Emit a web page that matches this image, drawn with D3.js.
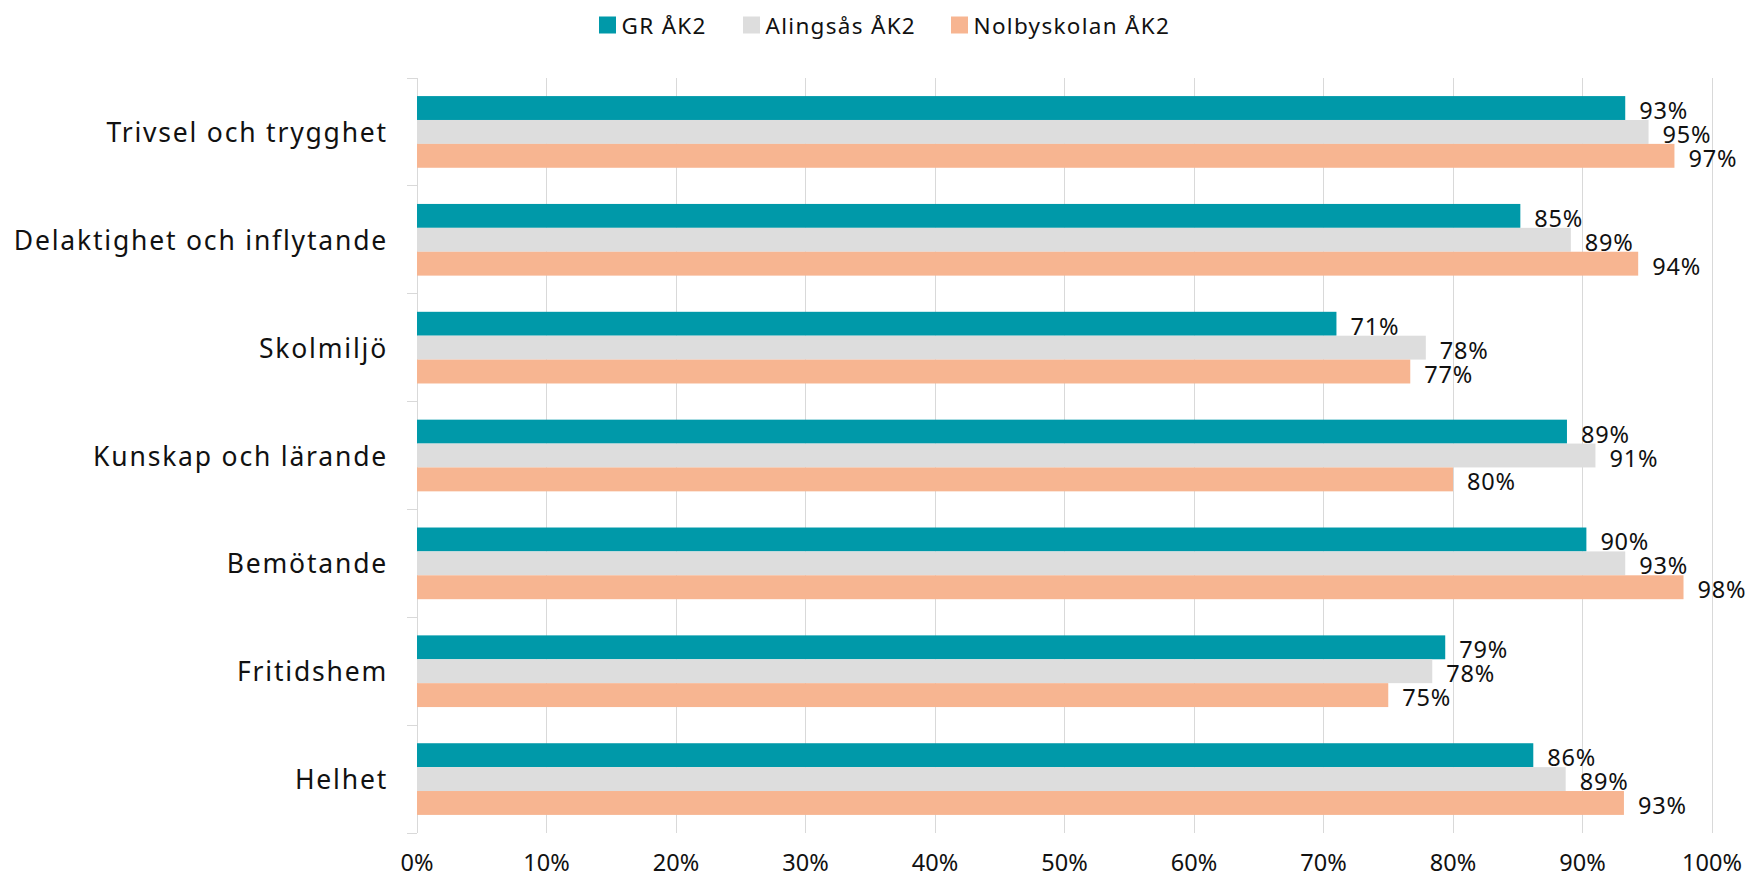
<!DOCTYPE html>
<html>
<head>
<meta charset="utf-8">
<script src="https://cdn.jsdelivr.net/npm/d3@7"></script>
<style>
  html, body { margin: 0; padding: 0; background: #fff; }
  svg { display: block; font-family: "Noto Sans", "Open Sans", sans-serif; }
</style>
</head>
<body>
<svg id="chart" width="1748" height="878"></svg>
<script>
const categories = ["Trivsel och trygghet", "Delaktighet och inflytande", "Skolmiljö", "Kunskap och lärande", "Bemötande", "Fritidshem", "Helhet"];
const seriesNames = ["GR ÅK2", "Alingsås ÅK2", "Nolbyskolan ÅK2"];
const grValues = [0.933, 0.852, 0.710, 0.888, 0.903, 0.794, 0.862];
const alingsasValues = [0.951, 0.891, 0.779, 0.910, 0.933, 0.784, 0.887];
const nolbyValues = [0.971, 0.943, 0.767, 0.800, 0.978, 0.750, 0.932];
const xTicks = [0, 0.1, 0.2, 0.3, 0.4, 0.5, 0.6, 0.7, 0.8, 0.9, 1.0];
const colors = ["#0099a9", "#dddddd", "#f7b591"];

const seriesValues = [grValues, alingsasValues, nolbyValues];
const svg = d3.select("#chart");

const mLeft = 417, mRight = 1712, mTop = 78, mBottom = 833;
const x = d3.scaleLinear().domain([0, 1]).range([mLeft, mRight]);
const y0 = d3.scaleBand().domain(categories).range([mTop, mBottom]).padding(0);
const y1 = d3.scaleBand().domain(seriesNames).range([0, y0.bandwidth()]).paddingInner(0).paddingOuter(0.757);

// gridlines
svg.append("g").selectAll("line").data(xTicks.slice(1)).join("line")
  .attr("x1", d => x(d)).attr("x2", d => x(d))
  .attr("y1", mTop).attr("y2", mBottom)
  .attr("stroke", "#d9d9d9").attr("stroke-width", 1)
  .attr("shape-rendering", "crispEdges");

// category axis line + ticks
svg.append("line")
  .attr("x1", mLeft).attr("x2", mLeft).attr("y1", mTop).attr("y2", mBottom)
  .attr("stroke", "#d9d9d9").attr("stroke-width", 1).attr("shape-rendering", "crispEdges");
const boundaries = categories.map(c => y0(c)).concat([mBottom]);
svg.append("g").selectAll("line").data(boundaries).join("line")
  .attr("x1", mLeft - 10).attr("x2", mLeft)
  .attr("y1", d => d).attr("y2", d => d)
  .attr("stroke", "#d9d9d9").attr("stroke-width", 1).attr("shape-rendering", "crispEdges");

// bars
const rows = [];
categories.forEach((c, i) => {
  seriesNames.forEach((s, j) => rows.push({ c, s, j, v: seriesValues[j][i] }));
});
svg.append("g").selectAll("rect").data(rows).join("rect")
  .attr("x", x(0))
  .attr("y", d => y0(d.c) + y1(d.s))
  .attr("width", d => x(d.v) - x(0))
  .attr("height", y1.bandwidth())
  .attr("fill", d => colors[d.j]);

// data labels
svg.append("g").selectAll("text").data(rows).join("text")
  .attr("x", d => x(d.v) + 14)
  .attr("y", d => y0(d.c) + y1(d.s) + y1.bandwidth() / 2 + 2)
  .attr("dominant-baseline", "central")
  .attr("font-size", 23.5)
  .attr("letter-spacing", 0.8)
  .attr("fill", "#111")
  .text(d => Math.round(d.v * 100) + "%");

// category labels
svg.append("g").selectAll("text").data(categories).join("text")
  .attr("x", 388)
  .attr("y", d => y0(d) + y0.bandwidth() / 2)
  .attr("text-anchor", "end")
  .attr("dominant-baseline", "central")
  .attr("font-size", 26.5)
  .attr("letter-spacing", 1.8)
  .attr("fill", "#111")
  .text(d => d);

// x tick labels
svg.append("g").selectAll("text").data(xTicks).join("text")
  .attr("x", d => x(d))
  .attr("y", 862)
  .attr("text-anchor", "middle")
  .attr("dominant-baseline", "central")
  .attr("font-size", 23.5)
  .attr("fill", "#111")
  .text(d => d3.format(".0%")(d));

// legend
const legendX = [599, 743, 951];
const lg = svg.append("g").selectAll("g").data(seriesNames).join("g")
  .attr("transform", (d, i) => `translate(${legendX[i]},0)`);
lg.append("rect").attr("x", 0).attr("y", 16.5).attr("width", 17).attr("height", 17)
  .attr("fill", (d, i) => colors[i]);
lg.append("text").attr("x", 22.5).attr("y", 25)
  .attr("dominant-baseline", "central")
  .attr("font-size", 22.5)
  .attr("letter-spacing", 1.3)
  .attr("fill", "#111")
  .text(d => d);
</script>
</body>
</html>
